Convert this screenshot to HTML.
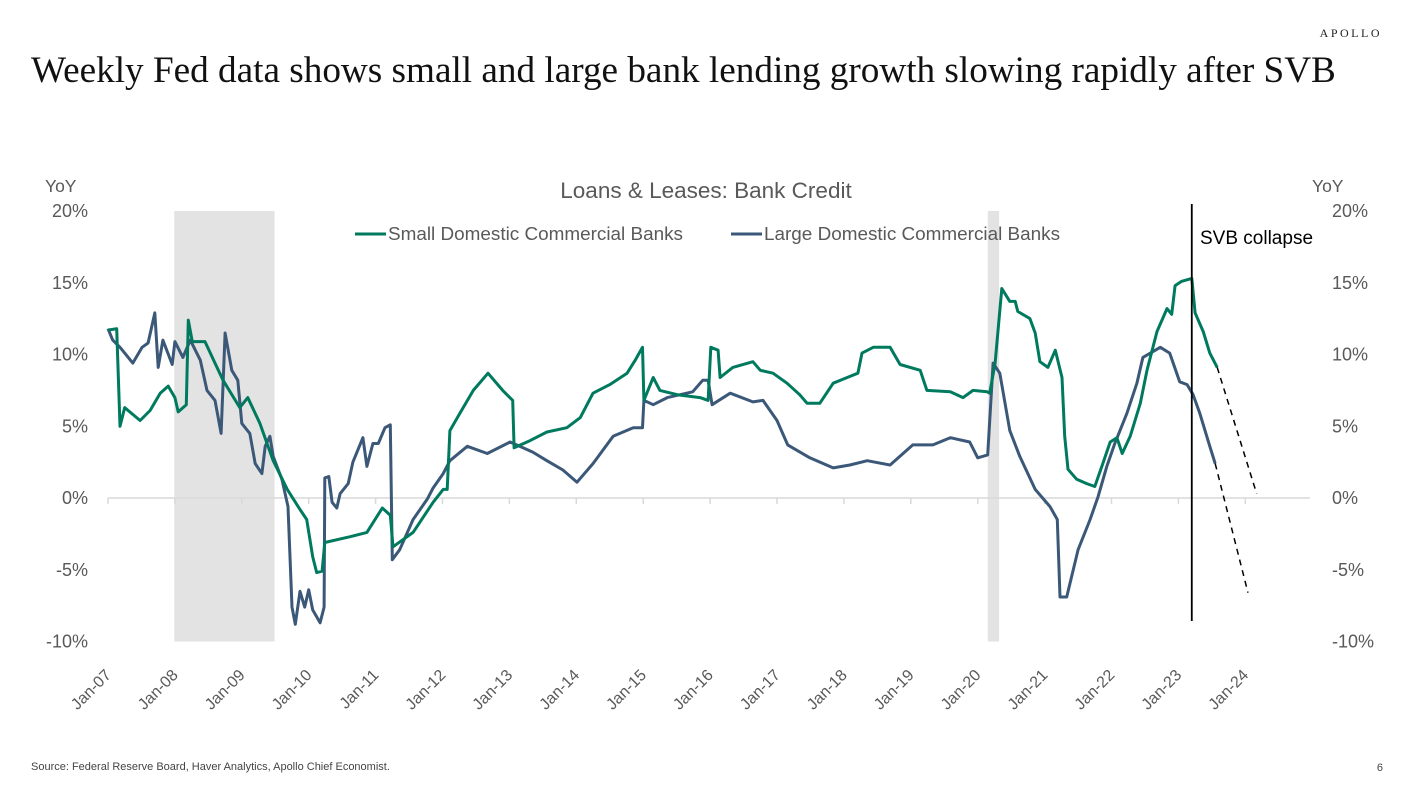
<!DOCTYPE html>
<html><head><meta charset="utf-8"><style>
body{margin:0;width:1419px;height:788px;background:#fff;overflow:hidden;font-family:"Liberation Sans",sans-serif}
svg{position:absolute;left:0;top:0}
</style></head><body>
<svg width="1419" height="788">
<text x="1382" y="37" text-anchor="end" font-family="Liberation Serif,serif" font-size="12" letter-spacing="2.5" fill="#222">APOLLO</text>
<text x="31" y="82" font-family="Liberation Serif,serif" font-size="37.2" fill="#111">Weekly Fed data shows small and large bank lending growth slowing rapidly after SVB</text>
<text x="706" y="198" text-anchor="middle" font-size="22.5" fill="#595959">Loans &amp; Leases: Bank Credit</text>
<text x="45" y="192" font-size="17.5" fill="#595959">YoY</text>
<text x="1312" y="192" font-size="17.5" fill="#595959">YoY</text>
<g id="plot"></g>
<g>
<line x1="355" y1="234" x2="386" y2="234" stroke="#007a5e" stroke-width="3"/>
<text x="388" y="240" font-size="18.9" fill="#595959">Small Domestic Commercial Banks</text>
<line x1="731" y1="234" x2="762" y2="234" stroke="#3b5878" stroke-width="3"/>
<text x="764" y="240" font-size="18.9" fill="#595959">Large Domestic Commercial Banks</text>
</g>
<text x="1200" y="244" font-size="19" fill="#000">SVB collapse</text>
<text x="31" y="770" font-size="11" fill="#444">Source: Federal Reserve Board, Haver Analytics, Apollo Chief Economist.</text>
<text x="1383" y="771" text-anchor="end" font-size="11" fill="#444">6</text>
</svg>
<script>
const yTicks=[20,15,10,5,0,-5,-10];
const xTickYears=[2007,2008,2009,2010,2011,2012,2013,2014,2015,2016,2017,2018,2019,2020,2021,2022,2023,2024];
const xTickLabels=["Jan-07","Jan-08","Jan-09","Jan-10","Jan-11","Jan-12","Jan-13","Jan-14","Jan-15","Jan-16","Jan-17","Jan-18","Jan-19","Jan-20","Jan-21","Jan-22","Jan-23","Jan-24"];
const recessions=[[2007.99,2009.49],[2020.15,2020.32]];
const svbDate=2023.2;
const smallDates=[2007.00,2007.13,2007.18,2007.25,2007.48,2007.63,2007.78,2007.90,2008.00,2008.05,2008.17,2008.20,2008.26,2008.45,2008.60,2008.72,2008.97,2009.09,2009.27,2009.47,2009.68,2009.87,2009.97,2010.06,2010.12,2010.20,2010.24,2010.62,2010.87,2011.10,2011.22,2011.26,2011.56,2011.86,2012.01,2012.07,2012.11,2012.26,2012.46,2012.68,2012.90,2013.05,2013.07,2013.31,2013.56,2013.86,2014.06,2014.25,2014.50,2014.76,2014.88,2014.99,2015.01,2015.15,2015.25,2015.51,2015.85,2015.97,2016.01,2016.12,2016.15,2016.34,2016.64,2016.75,2016.94,2017.15,2017.34,2017.45,2017.64,2017.84,2018.05,2018.21,2018.27,2018.44,2018.69,2018.84,2019.14,2019.24,2019.59,2019.78,2019.93,2020.14,2020.18,2020.26,2020.36,2020.48,2020.56,2020.60,2020.78,2020.86,2020.93,2021.05,2021.16,2021.26,2021.30,2021.35,2021.48,2021.63,2021.75,2021.87,2021.98,2022.08,2022.16,2022.28,2022.43,2022.53,2022.68,2022.83,2022.90,2022.95,2023.05,2023.20,2023.25,2023.37,2023.47,2023.58];
const smallValues=[11.7,11.8,5.0,6.3,5.4,6.1,7.3,7.8,7.0,6.0,6.5,12.4,10.9,10.9,9.4,8.2,6.3,7.0,5.2,2.6,0.6,-0.8,-1.5,-4.1,-5.2,-5.1,-3.1,-2.7,-2.4,-0.7,-1.2,-3.4,-2.4,-0.3,0.6,0.6,4.7,5.9,7.5,8.7,7.5,6.8,3.5,4.0,4.6,4.9,5.6,7.3,7.9,8.7,9.6,10.5,6.8,8.4,7.5,7.2,7.0,6.8,10.5,10.3,8.4,9.1,9.5,8.9,8.7,8.0,7.2,6.6,6.6,8.0,8.4,8.7,10.1,10.5,10.5,9.3,8.9,7.5,7.4,7.0,7.5,7.4,7.3,9.4,14.6,13.7,13.7,13.0,12.5,11.5,9.5,9.1,10.3,8.4,4.3,2.0,1.3,1.0,0.8,2.4,3.9,4.2,3.1,4.3,6.6,8.9,11.6,13.2,12.8,14.8,15.1,15.3,12.9,11.6,10.1,9.1];
const largeDates=[2007.00,2007.07,2007.18,2007.37,2007.51,2007.60,2007.70,2007.75,2007.82,2007.96,2008.00,2008.12,2008.23,2008.38,2008.48,2008.60,2008.69,2008.75,2008.85,2008.94,2009.00,2009.12,2009.20,2009.30,2009.35,2009.42,2009.47,2009.60,2009.69,2009.75,2009.80,2009.87,2009.94,2010.00,2010.06,2010.17,2010.23,2010.24,2010.30,2010.35,2010.42,2010.47,2010.59,2010.66,2010.81,2010.87,2010.96,2011.04,2011.14,2011.22,2011.25,2011.36,2011.56,2011.77,2011.86,2012.01,2012.11,2012.37,2012.67,2013.01,2013.35,2013.56,2013.80,2014.01,2014.25,2014.55,2014.85,2014.99,2015.01,2015.15,2015.36,2015.74,2015.89,2015.97,2016.03,2016.30,2016.64,2016.79,2017.00,2017.16,2017.49,2017.84,2018.09,2018.35,2018.69,2019.03,2019.33,2019.59,2019.88,2020.00,2020.15,2020.23,2020.33,2020.48,2020.63,2020.86,2021.08,2021.19,2021.23,2021.33,2021.50,2021.68,2021.80,2021.93,2022.05,2022.23,2022.38,2022.47,2022.73,2022.87,2023.02,2023.13,2023.22,2023.32,2023.47,2023.55];
const largeValues=[11.8,11.0,10.5,9.4,10.5,10.8,12.9,9.1,11.0,9.3,10.9,9.8,11.0,9.6,7.5,6.8,4.5,11.5,8.9,8.2,5.2,4.5,2.4,1.7,3.6,4.3,2.9,1.3,-0.6,-7.6,-8.8,-6.5,-7.6,-6.4,-7.8,-8.7,-7.6,1.4,1.5,-0.3,-0.7,0.3,1.0,2.5,4.2,2.2,3.8,3.8,4.9,5.1,-4.3,-3.6,-1.5,-0.1,0.7,1.7,2.6,3.6,3.1,3.9,3.2,2.6,1.95,1.1,2.4,4.3,4.9,4.9,6.8,6.5,7.0,7.4,8.2,8.2,6.5,7.3,6.7,6.8,5.4,3.7,2.8,2.1,2.3,2.6,2.3,3.7,3.7,4.2,3.9,2.8,3.0,9.4,8.7,4.7,2.9,0.6,-0.6,-1.5,-6.9,-6.9,-3.6,-1.5,0.1,2.2,3.8,5.9,8.0,9.8,10.5,10.1,8.1,7.9,7.2,5.9,3.6,2.4];
const smallProjection=[[2023.58,9.1],[2024.17,0.3]];
const largeProjection=[[2023.55,2.4],[2024.04,-6.6]];

const X=t=>108+(t-2007)*66.9;
const Y=v=>498-v*14.35;
const NS="http://www.w3.org/2000/svg";
const g=document.getElementById('plot');
function mk(tag,attrs){const e=document.createElementNS(NS,tag);for(const k in attrs)e.setAttribute(k,attrs[k]);g.appendChild(e);return e;}
recessions.forEach(r=>{const e=mk('rect',{x:X(r[0]),y:Y(20),width:X(r[1])-X(r[0]),height:Y(-10)-Y(20),fill:'#e3e3e3'});

});
const base=mk('line',{x1:108,x2:1310,y1:Y(0),y2:Y(0),stroke:'#d9d9d9','stroke-width':1.5});


xTickYears.forEach((t,i)=>{mk('line',{x1:X(t),x2:X(t),y1:Y(0),y2:Y(0)+6,stroke:'#d9d9d9','stroke-width':1.5});
const tx=mk('text',{x:X(t)+4,y:676,'text-anchor':'end','font-size':16,fill:'#595959',transform:`rotate(-45 ${X(t)+4} 676)`});tx.textContent=xTickLabels[i];

});
yTicks.forEach(v=>{const a=mk('text',{x:88,y:Y(v)+6,'text-anchor':'end','font-size':18,fill:'#595959'});a.textContent=v+'%';


const b=mk('text',{x:1332,y:Y(v)+6,'font-size':18,fill:'#595959'});b.textContent=v+'%';

});
function series(d,v,col,name){const p=d.map((t,i)=>X(t).toFixed(1)+','+Y(v[i]).toFixed(1)).join(' ');
const e=mk('polyline',{points:p,fill:'none',stroke:col,'stroke-width':3,'stroke-linejoin':'round'});

}
series(largeDates,largeValues,'#3b5878','large-banks-line');
series(smallDates,smallValues,'#007a5e','small-banks-line');
[[smallProjection,'small-banks-projection'],[largeProjection,'large-banks-projection']].forEach(([pr,n])=>{
const e=mk('line',{x1:X(pr[0][0]),y1:Y(pr[0][1]),x2:X(pr[1][0]),y2:Y(pr[1][1]),stroke:'#000','stroke-width':1.5,'stroke-dasharray':'6,5'});

});
const s=mk('line',{x1:X(svbDate),x2:X(svbDate),y1:204,y2:621,stroke:'#000','stroke-width':1.8});


</script>
</body></html>
